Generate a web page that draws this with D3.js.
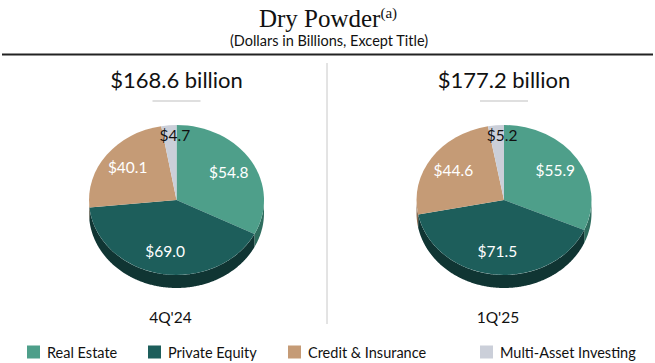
<!DOCTYPE html>
<html>
<head>
<meta charset="utf-8">
<script src="https://cdn.jsdelivr.net/npm/d3@7.9.0/dist/d3.min.js"></script>
<style>
  body { margin: 0; background: #fff; }
  svg { display: block; }
  text { font-family: "Lato", "Open Sans", sans-serif; }
</style>
</head>
<body>
<svg id="chart" width="655" height="363"></svg>
<script>
const categories = ["Real Estate", "Private Equity", "Credit & Insurance", "Multi-Asset Investing"];
const periods = ["4Q'24", "1Q'25"];
const totals = ["$168.6 billion", "$177.2 billion"];
const values4Q24 = [54.8, 69.0, 40.1, 4.7];
const values1Q25 = [55.9, 71.5, 44.6, 5.2];

const faceColors = ["#4e9f8a", "#1d5e5b", "#c59b76", "#cbcfd9"];
const sideColors = ["#2e6d5e", "#103533", "#8c6c52", "#8e9199"];
const labelColors = ["#fff", "#fff", "#fff", "#111"];

const svg = d3.select("#chart");
const W = 655;

// title
const title = svg.append("text")
  .attr("x", 328).attr("y", 27)
  .attr("text-anchor", "middle")
  .style("font-family", "'Liberation Serif', serif")
  .style("font-size", "25px")
  .attr("fill", "#111");
title.append("tspan").text("Dry Powder");
title.append("tspan").text("(a)").attr("dy", -9).style("font-size", "15px");

svg.append("text")
  .attr("x", 329).attr("y", 46)
  .attr("text-anchor", "middle")
  .style("font-size", "14.5px")
  .attr("fill", "#111")
  .text("(Dollars in Billions, Except Title)");

svg.append("line")
  .attr("x1", 2).attr("x2", W - 2)
  .attr("y1", 54.5).attr("y2", 54.5)
  .attr("stroke", "#222").attr("stroke-width", 2);

svg.append("line")
  .attr("x1", 327).attr("x2", 327)
  .attr("y1", 63).attr("y2", 324)
  .attr("stroke", "#c8c8c8").attr("stroke-width", 1);

const rx = 87.5, ry = 75, depth = 13;
const pie = d3.pie().sort(null).value(d => d).startAngle(0).endAngle(2 * Math.PI);
const arc = d3.arc().innerRadius(0).outerRadius(rx);

function sidePath(a0, a1, dy) {
  const s = Math.max(a0, Math.PI / 2), e = Math.min(a1, 3 * Math.PI / 2);
  if (e <= s) return null;
  const angles = d3.range(s, e, 0.01).concat([e]);
  const top = angles.map(a => [rx * Math.sin(a), -ry * Math.cos(a)]);
  const bottom = angles.slice().reverse().map(a => [rx * Math.sin(a), -ry * Math.cos(a) + dy]);
  return d3.line()(top.concat(bottom)) + "Z";
}

function drawPie(values, cx, cy, total, period) {
  const g = svg.append("g").attr("transform", `translate(${cx},${cy})`);
  const arcs = pie(values);

  // side walls
  arcs.forEach((d, i) => {
    const p = sidePath(d.startAngle, d.endAngle, depth);
    if (p) g.append("path").attr("d", p).attr("fill", sideColors[i]);
  });

  // top face
  const face = g.append("g").attr("transform", `scale(1,${ry / rx})`);
  face.selectAll("path")
    .data(arcs)
    .join("path")
    .attr("d", arc)
    .attr("fill", (d, i) => faceColors[i]);

  // labels
  arcs.forEach((d, i) => {
    const f = values[i] < 10 ? 0.86 : 0.7;
    const la = d3.arc().innerRadius(rx * f).outerRadius(rx * f);
    const [x, y] = la.centroid(d);
    g.append("text")
      .attr("x", x + (values[i] < 10 ? 5 : 0))
      .attr("y", y * ry / rx + 5)
      .attr("text-anchor", "middle")
      .style("font-size", "15.5px")
      .attr("fill", labelColors[i])
      .text("$" + d3.format(".1f")(values[i]));
  });

  svg.append("text")
    .attr("x", cx).attr("y", 88)
    .attr("text-anchor", "middle")
    .style("font-size", "22px")
    .attr("fill", "#111")
    .text(total);

  svg.append("line")
    .attr("x1", cx - 24).attr("x2", cx + 24)
    .attr("y1", 101).attr("y2", 101)
    .attr("stroke", "#c0c0c0").attr("stroke-width", 1.2);

  svg.append("text")
    .attr("x", cx - 6).attr("y", 323)
    .attr("text-anchor", "middle")
    .style("font-size", "15.5px")
    .attr("fill", "#111")
    .text(period);
}

drawPie(values4Q24, 176.5, 200, totals[0], periods[0]);
drawPie(values1Q25, 504, 200, totals[1], periods[1]);

// legend
const legendX = [27, 148, 288, 480];
const legend = svg.append("g");
categories.forEach((c, i) => {
  const lg = legend.append("g").attr("transform", `translate(${legendX[i]},352)`);
  lg.append("rect")
    .attr("x", 0).attr("y", -6.5)
    .attr("width", 13).attr("height", 13)
    .attr("fill", faceColors[i]);
  lg.append("text")
    .attr("x", 20).attr("y", 5.5)
    .style("font-size", "14.5px")
    .attr("fill", "#111")
    .text(c);
});
</script>
</body>
</html>
